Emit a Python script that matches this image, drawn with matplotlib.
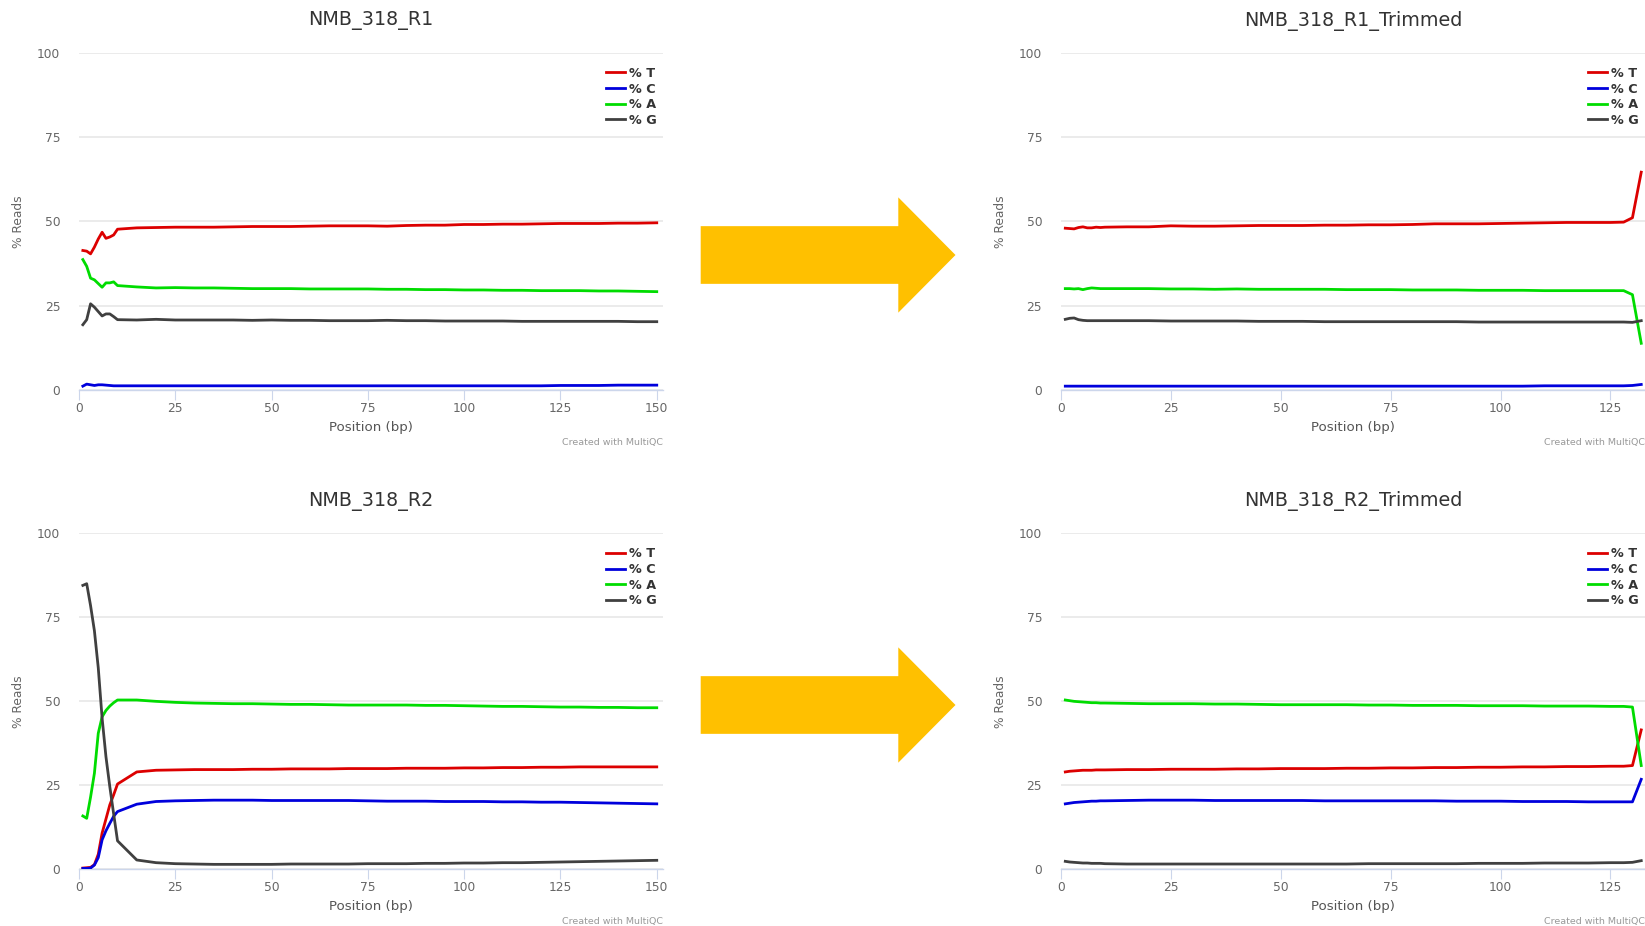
import matplotlib
matplotlib.use("Agg")
import matplotlib.pyplot as plt
from matplotlib.patches import Polygon

plt.rcParams['font.family'] = ['DejaVu Sans']

# ---- Per-base sequence content (% of reads) ----
pos_raw = [1, 2, 3, 4, 5, 6, 7, 8, 9, 10, 15, 20, 25, 30, 35, 40, 45, 50, 55, 60,
           65, 70, 75, 80, 85, 90, 95, 100, 105, 110, 115, 120, 125, 130, 135, 140,
           145, 150]
pos_trim = [1, 2, 3, 4, 5, 6, 7, 8, 9, 10, 15, 20, 25, 30, 35, 40, 45, 50, 55, 60,
            65, 70, 75, 80, 85, 90, 95, 100, 105, 110, 115, 120, 125, 128, 130, 132]

# NMB_318_R1
r1_t = [41.4, 41.2, 40.4, 42.4, 44.8, 46.8, 45.0, 45.4, 46.0, 47.7, 48.1, 48.2, 48.3,
        48.3, 48.3, 48.4, 48.5, 48.5, 48.5, 48.6, 48.7, 48.7, 48.7, 48.6, 48.8, 48.9,
        48.9, 49.1, 49.1, 49.2, 49.2, 49.3, 49.4, 49.4, 49.4, 49.5, 49.5, 49.6]
r1_c = [1.2, 1.8, 1.6, 1.4, 1.6, 1.6, 1.5, 1.4, 1.3, 1.3, 1.3, 1.3, 1.3, 1.3, 1.3,
        1.3, 1.3, 1.3, 1.3, 1.3, 1.3, 1.3, 1.3, 1.3, 1.3, 1.3, 1.3, 1.3, 1.3, 1.3,
        1.3, 1.3, 1.4, 1.4, 1.4, 1.5, 1.5, 1.5]
r1_a = [38.7, 36.7, 33.2, 32.7, 31.6, 30.5, 31.8, 31.8, 32.1, 31.0, 30.6, 30.3, 30.4,
        30.3, 30.3, 30.2, 30.1, 30.1, 30.1, 30.0, 30.0, 30.0, 30.0, 29.9, 29.9, 29.8,
        29.8, 29.7, 29.7, 29.6, 29.6, 29.5, 29.5, 29.5, 29.4, 29.4, 29.3, 29.2]
r1_g = [19.4, 20.9, 25.6, 24.6, 23.3, 22.0, 22.6, 22.6, 21.8, 20.9, 20.8, 21.0, 20.8,
        20.8, 20.8, 20.8, 20.7, 20.8, 20.7, 20.7, 20.6, 20.6, 20.6, 20.7, 20.6, 20.6,
        20.5, 20.5, 20.5, 20.5, 20.4, 20.4, 20.4, 20.4, 20.4, 20.4, 20.3, 20.3]

# NMB_318_R2
r2_t = [0.4, 0.5, 0.6, 1.4, 4.5, 10.8, 15.0, 19.2, 22.2, 25.4, 29.0, 29.5, 29.6,
        29.7, 29.7, 29.7, 29.8, 29.8, 29.9, 29.9, 29.9, 30.0, 30.0, 30.0, 30.1, 30.1,
        30.1, 30.2, 30.2, 30.3, 30.3, 30.4, 30.4, 30.5, 30.5, 30.5, 30.5, 30.5]
r2_c = [0.3, 0.3, 0.4, 1.3, 3.5, 8.8, 11.5, 13.7, 15.8, 17.2, 19.4, 20.2, 20.4,
        20.5, 20.6, 20.6, 20.6, 20.5, 20.5, 20.5, 20.5, 20.5, 20.4, 20.3, 20.3, 20.3,
        20.2, 20.2, 20.2, 20.1, 20.1, 20.0, 20.0, 19.9, 19.8, 19.7, 19.6, 19.5]
r2_a = [15.9, 15.2, 21.5, 28.6, 40.5, 45.4, 47.3, 48.6, 49.6, 50.4, 50.4, 50.0, 49.7,
        49.5, 49.4, 49.3, 49.3, 49.2, 49.1, 49.1, 49.0, 48.9, 48.9, 48.9, 48.9, 48.8,
        48.8, 48.7, 48.6, 48.5, 48.5, 48.4, 48.3, 48.3, 48.2, 48.2, 48.1, 48.1]
r2_g = [84.5, 85.0, 78.5, 71.0, 60.0, 45.0, 33.5, 24.6, 16.5, 8.5, 2.8, 2.0, 1.7,
        1.6, 1.5, 1.5, 1.5, 1.5, 1.6, 1.6, 1.6, 1.6, 1.7, 1.7, 1.7, 1.8, 1.8, 1.9,
        1.9, 2.0, 2.0, 2.1, 2.2, 2.3, 2.4, 2.5, 2.6, 2.7]

# NMB_318_R1_Trimmed
r1t_t = [48.0, 47.9, 47.8, 48.2, 48.4, 48.1, 48.1, 48.3, 48.2, 48.3, 48.4, 48.4, 48.7,
         48.6, 48.6, 48.7, 48.8, 48.8, 48.8, 48.9, 48.9, 49.0, 49.0, 49.1, 49.3, 49.3,
         49.3, 49.4, 49.5, 49.6, 49.7, 49.7, 49.7, 49.8, 51.1, 64.6]
r1t_c = [1.2, 1.2, 1.2, 1.2, 1.2, 1.2, 1.2, 1.2, 1.2, 1.2, 1.2, 1.2, 1.2, 1.2, 1.2,
         1.2, 1.2, 1.2, 1.2, 1.2, 1.2, 1.2, 1.2, 1.2, 1.2, 1.2, 1.2, 1.2, 1.2, 1.3,
         1.3, 1.3, 1.3, 1.3, 1.4, 1.7]
r1t_a = [30.1, 30.1, 30.0, 30.1, 29.8, 30.1, 30.3, 30.2, 30.1, 30.1, 30.1, 30.1, 30.0,
         30.0, 29.9, 30.0, 29.9, 29.9, 29.9, 29.9, 29.8, 29.8, 29.8, 29.7, 29.7, 29.7,
         29.6, 29.6, 29.6, 29.5, 29.5, 29.5, 29.5, 29.5, 28.3, 13.9]
r1t_g = [21.0, 21.3, 21.4, 20.9, 20.7, 20.6, 20.6, 20.6, 20.6, 20.6, 20.6, 20.6, 20.5,
         20.5, 20.5, 20.5, 20.4, 20.4, 20.4, 20.3, 20.3, 20.3, 20.3, 20.3, 20.3, 20.3,
         20.2, 20.2, 20.2, 20.2, 20.2, 20.2, 20.2, 20.2, 20.1, 20.6]

# NMB_318_R2_Trimmed
r2t_t = [29.0, 29.2, 29.3, 29.4, 29.5, 29.5, 29.5, 29.6, 29.6, 29.6, 29.7, 29.7, 29.8,
         29.8, 29.8, 29.9, 29.9, 30.0, 30.0, 30.0, 30.1, 30.1, 30.2, 30.2, 30.3, 30.3,
         30.4, 30.4, 30.5, 30.5, 30.6, 30.6, 30.7, 30.7, 30.9, 41.5]
r2t_c = [19.5, 19.7, 19.9, 20.0, 20.1, 20.2, 20.3, 20.3, 20.4, 20.4, 20.5, 20.6, 20.6,
         20.6, 20.5, 20.5, 20.5, 20.5, 20.5, 20.4, 20.4, 20.4, 20.4, 20.4, 20.4, 20.3,
         20.3, 20.3, 20.2, 20.2, 20.2, 20.1, 20.1, 20.1, 20.1, 26.8]
r2t_a = [50.4, 50.2, 50.0, 49.9, 49.8, 49.7, 49.6, 49.6, 49.5, 49.5, 49.4, 49.3, 49.3,
         49.3, 49.2, 49.2, 49.1, 49.0, 49.0, 49.0, 49.0, 48.9, 48.9, 48.8, 48.8, 48.8,
         48.7, 48.7, 48.7, 48.6, 48.6, 48.6, 48.5, 48.5, 48.3, 30.9]
r2t_g = [2.4, 2.2, 2.1, 2.0, 1.9, 1.9, 1.8, 1.8, 1.8, 1.7, 1.6, 1.6, 1.6, 1.6, 1.6,
         1.6, 1.6, 1.6, 1.6, 1.6, 1.6, 1.7, 1.7, 1.7, 1.7, 1.7, 1.8, 1.8, 1.8, 1.9,
         1.9, 1.9, 2.0, 2.0, 2.1, 2.6]

bases = ['% T', '% C', '% A', '% G']
base_colors = ['#dc0000', '#0000dc', '#00dc00', '#404040']
y_ticks = [0, 25, 50, 75, 100]

panels = [
    ('NMB_318_R1', pos_raw, [r1_t, r1_c, r1_a, r1_g], [0, 25, 50, 75, 100, 125, 150], 151.7),
    ('NMB_318_R1_Trimmed', pos_trim, [r1t_t, r1t_c, r1t_a, r1t_g], [0, 25, 50, 75, 100, 125], 132.9),
    ('NMB_318_R2', pos_raw, [r2_t, r2_c, r2_a, r2_g], [0, 25, 50, 75, 100, 125, 150], 151.7),
    ('NMB_318_R2_Trimmed', pos_trim, [r2t_t, r2t_c, r2t_a, r2t_g], [0, 25, 50, 75, 100, 125], 132.9),
]

W, H = 1645, 926
fig = plt.figure(figsize=(W / 100, H / 100), dpi=100)
fig.patch.set_facecolor('white')

ax_w = 584.3 / W
lefts = [79.0 / W, 1060.9 / W]
bottoms = [1 - 390.2 / H, 1 - 869.4 / H]
heights = [337.5 / H, 336.1 / H]

axis_col = '#ccd6eb'
grid_col = '#e6e6e6'

for i, (title, xs, series, xt, xmax) in enumerate(panels):
    row, col = divmod(i, 2)
    ax = fig.add_axes([lefts[col], bottoms[row], ax_w, heights[row]])
    ax.set_xlim(0, xmax)
    ax.set_ylim(0, 100)
    for name, color, ys in zip(bases, base_colors, series):
        ax.plot(xs, ys, color=color, lw=2.0, label=name, solid_joinstyle='round',
                zorder=3)

    for s in ('top', 'right', 'left'):
        ax.spines[s].set_visible(False)
    ax.spines['bottom'].set_color(axis_col)
    ax.spines['bottom'].set_linewidth(1.0)

    ax.set_yticks(y_ticks)
    ax.set_xticks(xt)
    ax.yaxis.grid(True, color=grid_col, lw=1.1)
    ax.set_axisbelow(True)
    ax.tick_params(axis='y', length=0, pad=13.5, labelsize=8.8, labelcolor='#666666')
    ax.tick_params(axis='x', direction='out', length=7.2, width=0.8, color=axis_col,
                   pad=1.0, labelsize=8.8, labelcolor='#666666')

    ax.text(0.5, 1.095, title, transform=ax.transAxes, ha='center', va='center',
            fontsize=13.8, color='#333333')
    ax.text(0.5, -0.111, 'Position (bp)', transform=ax.transAxes, ha='center',
            va='center', fontsize=9.6, color='#555555')
    ax.text(-0.1027, 0.5, '% Reads', transform=ax.transAxes, ha='center', va='center',
            rotation=90, fontsize=8.8, color='#666666')
    ax.text(1.0, -0.156, 'Created with MultiQC', transform=ax.transAxes, ha='right',
            va='center', fontsize=6.8, color='#999999')

    leg = ax.legend(loc='upper left', bbox_to_anchor=(0.9024, 0.958), frameon=False,
                    borderpad=0, borderaxespad=0, handlelength=1.45,
                    handletextpad=0.35, labelspacing=0.21,
                    prop={'size': 9.2, 'weight': 'bold'})
    for txt in leg.get_texts():
        txt.set_color('#333333')
    for ln in leg.get_lines():
        ln.set_linewidth(2.0)


def arrow(y_mid):
    # block arrow in figure pixels: shaft then triangular head
    x0, x1, x2 = 700.7, 898.3, 955.5
    body_h, head_h = 57.7, 115.3
    pts = [(x0, y_mid - body_h / 2), (x1, y_mid - body_h / 2), (x1, y_mid - head_h / 2),
           (x2, y_mid), (x1, y_mid + head_h / 2), (x1, y_mid + body_h / 2),
           (x0, y_mid + body_h / 2)]
    pts = [(x / W, 1 - y / H) for x, y in pts]
    fig.patches.append(Polygon(pts, closed=True, transform=fig.transFigure,
                               facecolor='#ffc000', edgecolor='none'))


arrow(255.0)
arrow(705.0)

fig.savefig('out.png', dpi=100, facecolor='white')
